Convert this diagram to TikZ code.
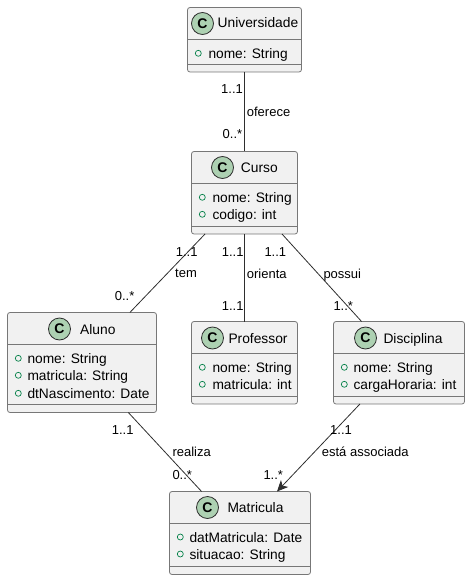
\documentclass[tikz,border=0pt]{standalone}
\usepackage{fontspec}
\setmainfont{Liberation Sans}
\usetikzlibrary{arrows.meta}
\definecolor{boxfill}{HTML}{F1F1F1}
\definecolor{boxline}{HTML}{777777}
\definecolor{linkline}{HTML}{2E2E2E}
\definecolor{markfill}{HTML}{ADD1B2}
\definecolor{memberline}{HTML}{038048}

\begin{document}
\begin{tikzpicture}[x=1pt, y=-1pt,
  classbox/.style = {shape=rectangle, draw=boxline, fill=boxfill, rounded corners=2.5pt,
    line width=.8pt, inner sep=0pt, outer sep=0pt},
  classmark/.style = {shape=circle, draw=linkline, fill=markfill, line width=.8pt,
    minimum size=22pt, inner sep=0pt, font=\fontsize{14}{14}\selectfont\bfseries},
  title/.style = {anchor=base west, inner sep=0pt, font=\fontsize{13.8}{14}\selectfont},
  member/.style = {anchor=base west, inner sep=0pt, font=\fontsize{13.75}{14}\selectfont},
  memberdot/.style = {shape=circle, draw=memberline, line width=.7pt, minimum size=6pt, inner sep=0pt},
  divider/.style = {draw=boxline, line width=.8pt},
  link/.style = {draw=linkline, line width=.8pt},
  linklabel/.style = {anchor=base west, inner sep=0pt, font=\fontsize{13}{13}\selectfont}]
  \useasboundingbox (0,0) rectangle (470,580);

  % classes
  \node[classbox, minimum width=114pt, minimum height=64.5pt] (universidade) at (244.5,39.75) {};
  \node[classbox, minimum width=106pt, minimum height=82.5pt] (curso) at (244.5,192.75) {};
  \node[classbox, minimum width=149pt, minimum height=100pt] (aluno) at (82,362.5) {};
  \node[classbox, minimum width=106pt, minimum height=82.5pt] (professor) at (244.5,362.75) {};
  \node[classbox, minimum width=131pt, minimum height=82.5pt] (disciplina) at (399,362.75) {};
  \node[classbox, minimum width=141pt, minimum height=83pt] (matricula) at (240,533) {};

  % dividers
  \draw[divider] (universidade.west |- 0,39.5) -- (universidade.east |- 0,39.5);
  \draw[divider] (universidade.west |- 0,64.5) -- (universidade.east |- 0,64.5);
  \draw[divider] (curso.west |- 0,183.5) -- (curso.east |- 0,183.5);
  \draw[divider] (curso.west |- 0,226) -- (curso.east |- 0,226);
  \draw[divider] (aluno.west |- 0,344.5) -- (aluno.east |- 0,344.5);
  \draw[divider] (aluno.west |- 0,404) -- (aluno.east |- 0,404);
  \draw[divider] (professor.west |- 0,353.5) -- (professor.east |- 0,353.5);
  \draw[divider] (professor.west |- 0,396) -- (professor.east |- 0,396);
  \draw[divider] (disciplina.west |- 0,353.5) -- (disciplina.east |- 0,353.5);
  \draw[divider] (disciplina.west |- 0,396) -- (disciplina.east |- 0,396);
  \draw[divider] (matricula.west |- 0,523.5) -- (matricula.east |- 0,523.5);
  \draw[divider] (matricula.west |- 0,566) -- (matricula.east |- 0,566);

  % headers
  \node[classmark] (markuniversidade) at (202.5,23.5) {C};
  \node[title] (nameuniversidade) at (217.5,28) {Universidade};
  \node[classmark] (markcurso) at (222.5,167.5) {C};
  \node[title] (namecurso) at (240.7,172.7) {Curso};
  \node[classmark] (markaluno) at (59.5,329) {C};
  \node[title] (namealuno) at (80,334) {Aluno};
  \node[classmark] (markprofessor) at (212.5,338) {C};
  \node[title] (nameprofessor) at (228.3,343.3) {Professor};
  \node[classmark] (markdisciplina) at (365.5,338) {C};
  \node[title] (namedisciplina) at (383.3,343.3) {Disciplina};
  \node[classmark] (markmatricula) at (207.5,507.5) {C};
  \node[title] (namematricula) at (227.3,512.7) {Matricula};

  % members
  \node[memberdot] (dotuninome) at (198.3,53.3) {};
  \node[member] (uninome) at (208.3,58.3) {nome: String};
  \node[memberdot] (dotcursonome) at (202.3,197.3) {};
  \node[member] (cursonome) at (212.3,202.3) {nome: String};
  \node[memberdot] (dotcursocodigo) at (202.3,214.3) {};
  \node[member] (cursocodigo) at (212.3,219.3) {codigo: int};
  \node[memberdot] (dotalunonome) at (18.3,358.3) {};
  \node[member] (alunonome) at (27.3,363.3) {nome: String};
  \node[memberdot] (dotalunomat) at (18.3,375.3) {};
  \node[member] (alunomat) at (27.3,380.3) {matricula: String};
  \node[memberdot] (dotalunodt) at (18.3,393.3) {};
  \node[member] (alunodt) at (27.3,398.3) {dtNascimento: Date};
  \node[memberdot] (dotprofnome) at (202.3,367.3) {};
  \node[member] (profnome) at (212.3,372.3) {nome: String};
  \node[memberdot] (dotprofmat) at (202.3,384.3) {};
  \node[member] (profmat) at (212.3,389.3) {matricula: int};
  \node[memberdot] (dotdiscnome) at (344.3,367.3) {};
  \node[member] (discnome) at (353.3,372.3) {nome: String};
  \node[memberdot] (dotdisccarga) at (344.3,384.3) {};
  \node[member] (disccarga) at (353.3,389.3) {cargaHoraria: int};
  \node[memberdot] (dotmatdata) at (180.3,537) {};
  \node[member] (matdata) at (189.3,542) {datMatricula: Date};
  \node[memberdot] (dotmatsit) at (180.3,554) {};
  \node[member] (matsit) at (189.3,559) {situacao: String};

  % links
  \draw[link] (universidade) -- (curso);
  \draw[link] (curso) -- (aluno);
  \draw[link] (curso) -- (professor);
  \draw[link] (curso) -- (disciplina);
  \draw[link] (aluno) -- (matricula);
  \draw[link, -{Stealth[length=11pt, width=10pt, inset=3pt]}] (disciplina) -- ([xshift=37pt]matricula.north);

  % link labels
  \node[linklabel] (oferecefrom) at (221,94) {1..1};
  \node[linklabel] (oferece) at (246.7,116.7) {oferece};
  \node[linklabel] (ofereceto) at (222.5,139) {0..*};
  \node[linklabel] (temfrom) at (175.7,256) {1..1};
  \node[linklabel] (tem) at (175,277.7) {tem};
  \node[linklabel] (temto) at (114.7,300.7) {0..*};
  \node[linklabel] (orientafrom) at (221.7,256) {1..1};
  \node[linklabel] (orienta) at (246.7,278) {orienta};
  \node[linklabel] (orientato) at (221.7,310) {1..1};
  \node[linklabel] (possuifrom) at (264.3,256) {1..1};
  \node[linklabel] (possui) at (323.3,278) {possui};
  \node[linklabel] (possuito) at (333.3,310) {1..*};
  \node[linklabel] (realizafrom) at (111.7,434) {1..1};
  \node[linklabel] (realiza) at (172.3,456.7) {realiza};
  \node[linklabel] (realizato) at (172.3,479.3) {0..*};
  \node[linklabel] (associadafrom) at (330,434) {1..1};
  \node[linklabel] (associada) at (321.7,456.7) {está associada};
  \node[linklabel] (associadato) at (263.3,479.3) {1..*};
\end{tikzpicture}
\end{document}
